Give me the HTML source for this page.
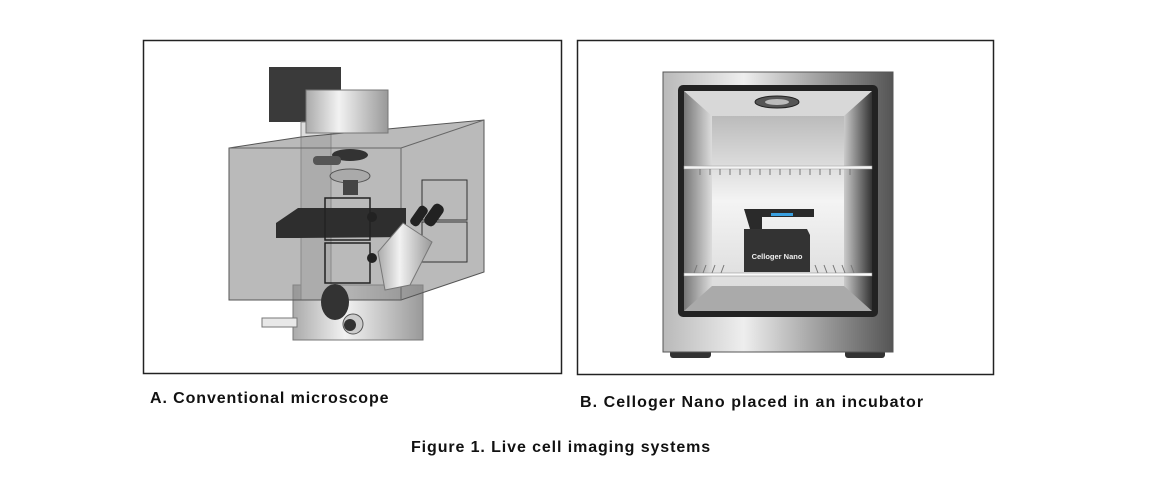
<!DOCTYPE html>
<html><head><meta charset="utf-8"><style>
body{margin:0;width:1173px;height:497px;background:#fff;position:relative;overflow:hidden;font-family:"Liberation Sans",sans-serif}
.cap{position:absolute;font-weight:bold;font-size:16px;color:#111;white-space:nowrap;letter-spacing:0.9px}
</style></head><body>
<svg width="1173" height="497" style="position:absolute;left:0;top:0">
<defs>
<linearGradient id="met" x1="0" x2="1"><stop offset="0" stop-color="#b9b9b9"/><stop offset=".35" stop-color="#eee"/><stop offset=".7" stop-color="#9a9a9a"/><stop offset="1" stop-color="#555"/></linearGradient>
<linearGradient id="inner" x1="0" x2="1"><stop offset="0" stop-color="#777"/><stop offset=".15" stop-color="#ddd"/><stop offset=".85" stop-color="#ccc"/><stop offset="1" stop-color="#333"/></linearGradient>
<linearGradient id="back" x1="0" y1="0" x2="0" y2="1"><stop offset="0" stop-color="#bbb"/><stop offset=".5" stop-color="#f4f4f4"/><stop offset="1" stop-color="#ddd"/></linearGradient>
<linearGradient id="lb" x1="0" x2="1"><stop offset="0" stop-color="#aaa"/><stop offset=".4" stop-color="#f2f2f2"/><stop offset="1" stop-color="#999"/></linearGradient>
</defs>
<rect x="143.5" y="40.5" width="418" height="333" fill="#fff" stroke="#222" stroke-width="1.5"/>
<rect x="577.5" y="40.5" width="416" height="334" fill="#fff" stroke="#222" stroke-width="1.5"/>
<!-- microscope -->
<rect x="269" y="67" width="72" height="55" fill="#3a3a3a"/>
<rect x="293" y="285" width="130" height="55" fill="url(#lb)" stroke="#777"/>
<rect x="301" y="122" width="30" height="178" fill="#ddd" stroke="#888"/>
<polygon points="229,148 301,137 484,120 484,272 401,300 229,300" fill="#8c8c8c" fill-opacity=".6" stroke="#555"/>
<line x1="401" y1="148" x2="401" y2="300" stroke="#666"/>
<line x1="229" y1="148" x2="401" y2="148" stroke="#666"/>
<line x1="401" y1="148" x2="484" y2="120" stroke="#666"/>
<rect x="422" y="180" width="45" height="40" fill="none" stroke="#333"/>
<rect x="422" y="222" width="45" height="40" fill="none" stroke="#333"/>
<rect x="306" y="90" width="82" height="43" fill="url(#lb)" stroke="#777"/>
<ellipse cx="350" cy="155" rx="18" ry="6" fill="#333"/>
<rect x="313" y="156" width="28" height="9" rx="4" fill="#555"/>
<ellipse cx="350" cy="176" rx="20" ry="7" fill="#aaa" stroke="#555"/>
<rect x="343" y="180" width="15" height="15" fill="#444"/>
<polygon points="276,223 298,208 406,208 406,237 298,238 276,238" fill="#2e2e2e"/>
<rect x="325" y="198" width="45" height="42" fill="none" stroke="#222" stroke-width="1.5"/>
<rect x="325" y="243" width="45" height="40" fill="none" stroke="#222" stroke-width="1.5"/>
<circle cx="372" cy="217" r="5" fill="#222"/><circle cx="372" cy="258" r="5" fill="#222"/>
<polygon points="378,252 403,223 432,242 410,285 385,290" fill="url(#lb)" stroke="#777"/>
<rect x="414" y="205" width="10" height="22" rx="4" fill="#222" transform="rotate(35 419 216)"/>
<rect x="428" y="203" width="12" height="24" rx="5" fill="#222" transform="rotate(35 434 215)"/>
<ellipse cx="335" cy="302" rx="14" ry="18" fill="#333"/>
<circle cx="353" cy="324" r="10" fill="#ccc" stroke="#555"/><circle cx="350" cy="325" r="6" fill="#333"/>
<rect x="262" y="318" width="35" height="9" fill="#e8e8e8" stroke="#777"/>
<!-- incubator -->
<rect x="670" y="350" width="41" height="8" rx="3" fill="#333"/>
<rect x="845" y="350" width="40" height="8" rx="3" fill="#333"/>
<rect x="663" y="72" width="230" height="280" fill="url(#met)" stroke="#555"/>
<rect x="678" y="85" width="200" height="232" rx="5" fill="#222"/>
<rect x="684" y="91" width="188" height="220" fill="url(#inner)"/>
<rect x="712" y="116" width="132" height="170" fill="url(#back)"/>
<polygon points="684,91 872,91 844,116 712,116" fill="#d8d8d8"/>
<polygon points="684,311 872,311 844,286 712,286" fill="#aaa"/>
<ellipse cx="777" cy="102" rx="22" ry="6" fill="#555" stroke="#222"/>
<ellipse cx="777" cy="102" rx="12" ry="3" fill="#bbb"/>
<rect x="684" y="166" width="188" height="3" fill="#f4f4f4" stroke="#999" stroke-width=".5"/>
<rect x="684" y="273" width="188" height="3" fill="#fafafa" stroke="#888" stroke-width=".5"/>
<g stroke="#777" stroke-width="1">
<path d="M700 169v6M710 169v6M720 169v6M730 169v6M740 169v6M750 169v6M760 169v6M770 169v6M780 169v6M790 169v6M800 169v6M810 169v6M820 169v6M830 169v6M840 169v6M850 169v6"/>
<path d="M697 265l-3 8M706 265l-3 8M715 265l-3 8M724 265l-3 8M815 265l3 8M824 265l3 8M833 265l3 8M842 265l3 8M851 265l3 8"/>
</g>
<path d="M744 209 h70 v8 h-52 v12 h-12 z" fill="#2a2a2a"/>
<rect x="771" y="213" width="22" height="3" fill="#3aa0e0"/>
<polygon points="744,229 807,229 810,235 810,272 744,272" fill="#333"/>
<text x="777" y="259" font-size="7.5" fill="#eee" font-weight="bold" text-anchor="middle" font-family="Liberation Sans,sans-serif">Celloger Nano</text>
</svg>
<div class="cap" style="left:150px;top:390px">A. Conventional microscope</div>
<div class="cap" style="left:580px;top:394px;letter-spacing:1.05px">B. Celloger Nano placed in an incubator</div>
<div class="cap" style="left:411px;top:439px">Figure 1. Live cell imaging systems</div>
</body></html>
